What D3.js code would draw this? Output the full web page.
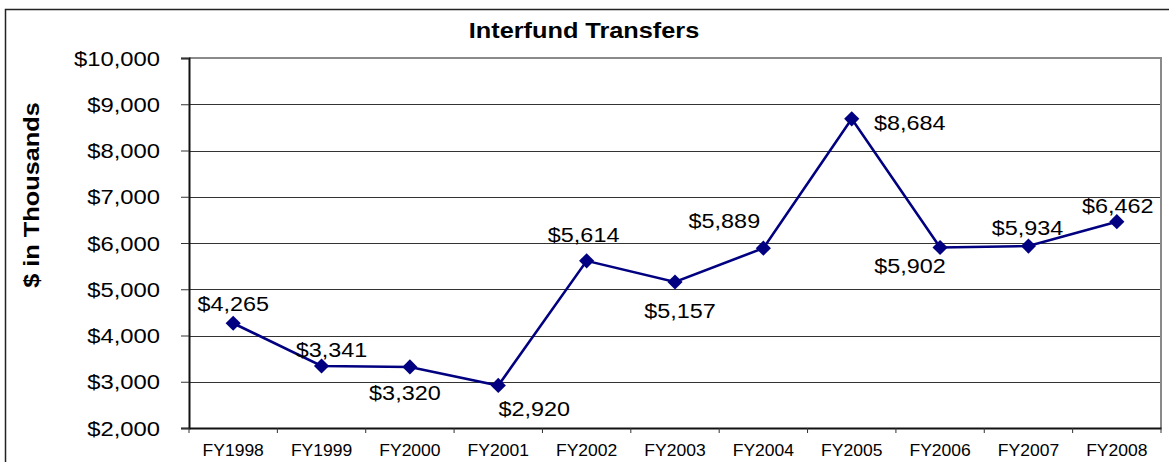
<!DOCTYPE html>
<html>
<head>
<meta charset="utf-8">
<script src="https://cdn.jsdelivr.net/npm/d3@7"></script>
<style>
  body { margin: 0; background: #fff; }
  svg { display: block; font-family: "Liberation Sans", Arial, sans-serif; }
</style>
</head>
<body>
<div id="chart"></div>
<script>
const years = ["FY1998", "FY1999", "FY2000", "FY2001", "FY2002", "FY2003",
               "FY2004", "FY2005", "FY2006", "FY2007", "FY2008"];
const transfers = [4265, 3341, 3320, 2920, 5614, 5157, 5889, 8684, 5902, 5934, 6462];
const yTicks = [2000, 3000, 4000, 5000, 6000, 7000, 8000, 9000, 10000];

// where each value label sits relative to its marker (dx, baseline dy)
const labelOffsets = [
    [0, -12], [10, -9], [-5, 33], [36, 31], [-3, -19], [5, 36],
    [-39, -20], [58, 11], [-30, 25], [-1, -11], [1, -9]
];

const W = 1169, H = 462;
const plot = { left: 189, right: 1161, top: 58, bottom: 428 };
const fmt = d => "$" + d3.format(",")(d);

const svg = d3.select("#chart").append("svg")
    .attr("width", W)
    .attr("height", H);

// stretch text a little wider, like the original rendering
function widen(sel, k) {
    sel.each(function () {
        const len = this.getComputedTextLength();
        d3.select(this).attr("textLength", len * k).attr("lengthAdjust", "spacingAndGlyphs");
    });
}

// outer frame
svg.append("rect")
    .attr("x", 5.5).attr("y", 9.5)
    .attr("width", W).attr("height", H)
    .attr("fill", "none")
    .attr("stroke", "#222")
    .attr("stroke-width", 1.5);

const x = d3.scaleBand()
    .domain(years)
    .range([plot.left, plot.right])
    .padding(0);

const y = d3.scaleLinear()
    .domain([2000, 10000])
    .range([plot.bottom, plot.top]);

// gridlines
svg.append("g")
    .selectAll("line")
    .data(yTicks.filter(d => d > 2000 && d < 10000))
    .join("line")
    .attr("x1", plot.left).attr("x2", plot.right)
    .attr("y1", d => Math.round(y(d)) + 0.5)
    .attr("y2", d => Math.round(y(d)) + 0.5)
    .attr("stroke", "#333")
    .attr("stroke-width", 1);

// top and right frame of plot area
svg.append("path")
    .attr("d", `M${plot.left},${plot.top}H${plot.right}V${plot.bottom}`)
    .attr("fill", "none")
    .attr("stroke", "#8a8a8a")
    .attr("stroke-width", 2);

// Y axis
const yAxis = svg.append("g")
    .attr("transform", `translate(${plot.left},0)`)
    .call(d3.axisLeft(y).tickValues(yTicks).tickSize(8).tickPadding(21).tickFormat(fmt));
yAxis.select(".domain").attr("stroke", "#111").attr("stroke-width", 2);
yAxis.selectAll(".tick line").attr("stroke", "#333");
yAxis.selectAll(".tick text")
    .attr("font-size", 20)
    .attr("font-family", "Liberation Sans, Arial, sans-serif")
    .attr("fill", "#000")
    .attr("dy", "0.36em")
    .call(widen, 1.19);

// X axis
const xAxis = svg.append("g")
    .attr("transform", `translate(0,${plot.bottom})`)
    .call(d3.axisBottom(x).tickSize(0).tickPadding(16));
xAxis.select(".domain").attr("stroke", "#111").attr("stroke-width", 2);
xAxis.selectAll(".tick text")
    .attr("font-size", 17)
    .attr("font-family", "Liberation Sans, Arial, sans-serif")
    .attr("fill", "#000")
    .call(widen, 1.03);

// category boundary ticks
svg.append("g")
    .selectAll("line")
    .data(years.concat(["end"]))
    .join("line")
    .attr("x1", (d, i) => i < years.length ? x(d) : x.range()[1])
    .attr("x2", (d, i) => i < years.length ? x(d) : x.range()[1])
    .attr("y1", plot.bottom)
    .attr("y2", plot.bottom + 5)
    .attr("stroke", "#333");

// line
const pts = years.map((d, i) => [x(d) + x.bandwidth() / 2, y(transfers[i])]);
svg.append("path")
    .datum(pts)
    .attr("d", d3.line())
    .attr("fill", "none")
    .attr("stroke", "#000080")
    .attr("stroke-width", 2.6);

// diamond markers
svg.append("g")
    .selectAll("path")
    .data(pts)
    .join("path")
    .attr("d", d3.symbol(d3.symbolSquare, 115))
    .attr("transform", d => `translate(${d[0]},${d[1]}) rotate(45)`)
    .attr("fill", "#000080");

// value labels
svg.append("g")
    .selectAll("text")
    .data(transfers)
    .join("text")
    .attr("x", (d, i) => pts[i][0] + labelOffsets[i][0])
    .attr("y", (d, i) => pts[i][1] + labelOffsets[i][1])
    .attr("text-anchor", "middle")
    .attr("font-size", 20)
    .attr("fill", "#000")
    .text(fmt)
    .call(widen, 1.17);

// title
svg.append("text")
    .attr("x", 584).attr("y", 38)
    .attr("text-anchor", "middle")
    .attr("font-size", 22)
    .attr("font-weight", "bold")
    .attr("fill", "#000")
    .text("Interfund Transfers")
    .call(widen, 1.15);

// y axis title
svg.append("text")
    .attr("transform", "translate(39,195) rotate(-90)")
    .attr("text-anchor", "middle")
    .attr("font-size", 22)
    .attr("font-weight", "bold")
    .attr("fill", "#000")
    .text("$ in Thousands")
    .call(widen, 1.15);
</script>
</body>
</html>
